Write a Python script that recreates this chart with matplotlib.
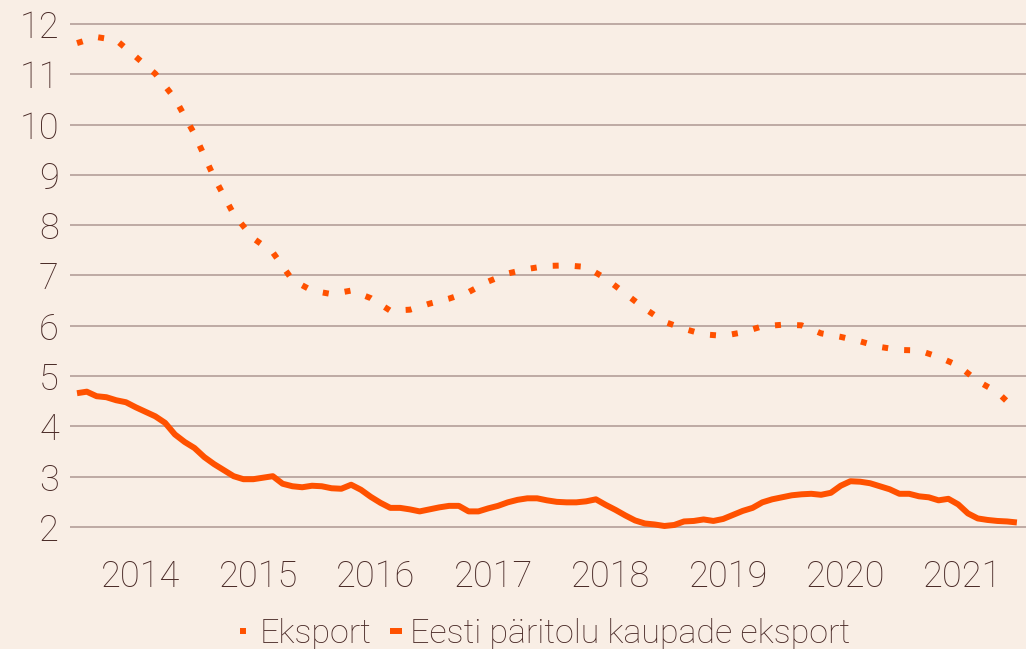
import matplotlib.pyplot as plt
import numpy as np

plt.rcParams['font.family'] = ['Roboto', 'DejaVu Sans']

bg = '#f9eee5'
orange = '#ff5100'
gridc = '#b9a49f'
textc = '#4a2a27'

years = ['2014', '2015', '2016', '2017', '2018', '2019', '2020', '2021']

# Eksport, read every second month
eksport = [11.62, 11.74, 11.68, 11.35, 11.01, 10.52, 9.81, 8.95, 8.22, 7.74,
           7.46, 6.91, 6.70, 6.63, 6.70, 6.55, 6.30, 6.32, 6.44, 6.54,
           6.67, 6.88, 7.04, 7.13, 7.19, 7.20, 7.17, 6.94, 6.64, 6.34,
           6.08, 5.94, 5.83, 5.80, 5.87, 5.99, 6.02, 6.01, 5.85, 5.78,
           5.69, 5.58, 5.52, 5.51, 5.38, 5.21, 4.90, 4.68, 4.31]

# Eesti päritolu kaupade eksport, monthly
eesti = [4.66, 4.69, 4.60, 4.58, 4.52, 4.48, 4.38, 4.29, 4.20, 4.07,
         3.84, 3.69, 3.57, 3.39, 3.25, 3.13, 3.01, 2.95, 2.95, 2.98,
         3.01, 2.86, 2.81, 2.79, 2.82, 2.81, 2.77, 2.76, 2.84, 2.74,
         2.60, 2.48, 2.38, 2.38, 2.35, 2.31, 2.35, 2.39, 2.42, 2.42,
         2.31, 2.31, 2.37, 2.42, 2.49, 2.54, 2.57, 2.57, 2.53, 2.50,
         2.49, 2.49, 2.51, 2.55, 2.44, 2.34, 2.23, 2.13, 2.07, 2.05,
         2.02, 2.04, 2.11, 2.12, 2.15, 2.12, 2.16, 2.24, 2.32, 2.38,
         2.49, 2.55, 2.59, 2.63, 2.65, 2.66, 2.64, 2.68, 2.82, 2.91,
         2.90, 2.87, 2.81, 2.75, 2.66, 2.66, 2.61, 2.59, 2.53, 2.56,
         2.45, 2.27, 2.17, 2.14, 2.12, 2.11, 2.09]

months = np.arange(len(eesti))
months2 = np.arange(0, len(eesti), 2)

fig = plt.figure(figsize=(10.26, 6.49), dpi=100, facecolor=bg)
ax = fig.add_axes([70/1026, 1 - (527 + 1.5)/649, 956/1026, 10.06*50.3/649])
ax.set_facecolor(bg)

ax.plot(months2, eksport, color=orange, lw=4.3, ls=(0, (1, 2.7)),
        dash_capstyle='butt', label='Eksport', zorder=3)
ax.plot(months, eesti, color=orange, lw=4.3, solid_capstyle='butt',
        label='Eesti päritolu kaupade eksport', zorder=3)

ax.set_ylim(1.97, 12.03)
ax.set_xlim(-0.715, 96.93)
ax.set_yticks(range(2, 13))
ax.set_xticks(np.arange(len(years))*12 + 6.5, years)
ax.grid(axis='y', color=gridc, lw=1.3)
ax.set_axisbelow(True)
for s in ax.spines.values():
    s.set_visible(False)
ax.tick_params(axis='both', length=0, labelsize=26, colors=textc)
ax.tick_params(axis='y', pad=8)
ax.tick_params(axis='x', pad=22)
for lab in ax.get_xticklabels() + ax.get_yticklabels():
    lab.set_fontweight('light')

leg = fig.legend(loc='center', bbox_to_anchor=(545/1026, 1 - 634/649), ncol=2,
                 frameon=False, handlelength=0.35,
                 handletextpad=0.22, columnspacing=0.55, borderpad=0,
                 labelcolor=textc, prop={'weight': 'light', 'size': 24.5})

fig.savefig('out.png', dpi=100, facecolor=bg)
